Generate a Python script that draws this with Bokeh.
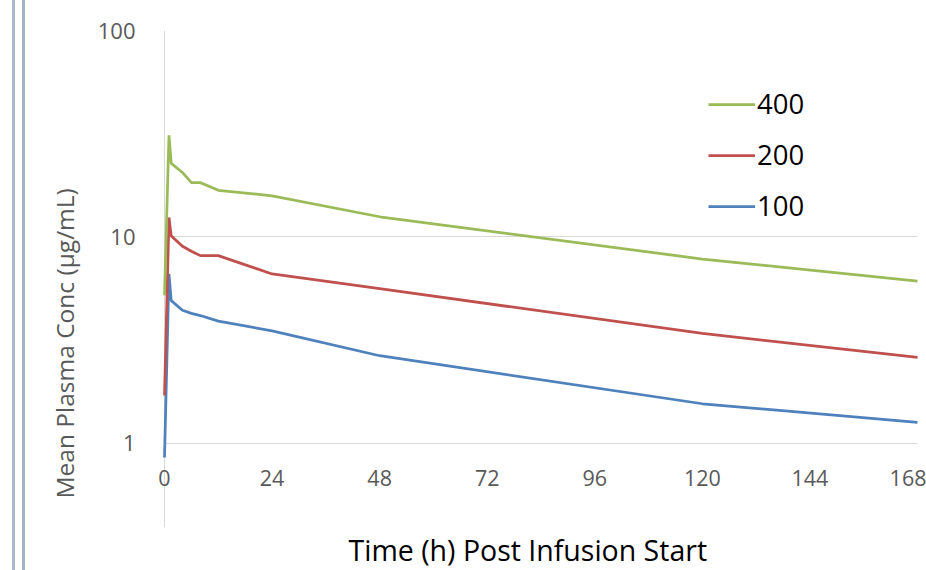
from bokeh.plotting import figure
from bokeh.models import (Range1d, FixedTicker, Legend, LegendItem, Span, Title)
from bokeh.embed import file_html
from bokeh.resources import INLINE

# Data
time_h = [0, 1, 1.5, 4, 6, 8, 12, 24, 48, 120, 168]
conc_400 = [5.2, 31.0, 22.7, 20.5, 18.3, 18.3, 16.8, 15.8, 12.5, 7.8, 6.1]
conc_200 = [1.7, 12.4, 10.1, 9.0, 8.5, 8.1, 8.1, 6.6, 5.6, 3.4, 2.6]
conc_100 = [0.85, 6.6, 4.9, 4.4, 4.25, 4.15, 3.9, 3.5, 2.65, 1.55, 1.26]

x_ticks = [0, 24, 48, 72, 96, 120, 144, 168]
y_ticks = [1, 10, 100]
y_tick_labels = ["1", "10", "100"]
series_names = ["400", "200", "100"]
series_colors = ["#9bbb59", "#c0504d", "#4f81bd"]
x_title = "Time (h) Post Infusion Start"
y_title = "Mean Plasma Conc (µg/mL)"

FONT = "Open Sans"
GRAY = "#595959"

p = figure(width=926, height=570,
           x_range=Range1d(-1.785, 170.01), y_range=Range1d(0.3894, 100),
           y_axis_type="log", output_backend="svg", toolbar_location=None,
           min_border_left=156, min_border_right=0, min_border_top=30,
           min_border_bottom=43, outline_line_color=None,
           background_fill_color=None, border_fill_color=None)
p.styles = {"background-image": "linear-gradient(90deg, #ffffff 0px, #ffffff 12px, #a9b8c9 12px, #a9b8c9 15px, #ffffff 15px, #ffffff 22px, #a3b4c6 22px, #a3b4c6 25px, #ffffff 25px)"}

# grid
p.xgrid.visible = False
g = p.ygrid[0]
g.ticker = FixedTicker(ticks=y_ticks)
g.minor_grid_line_color = None
g.grid_line_color = "#d9d9d9"
g.grid_line_width = 1
try:
    g.cross_bounds = (0, 168)
except Exception:
    pass

# vertical line at time 0 (value axis line)
p.add_layout(Span(location=0, dimension="height", line_color="#d9d9d9",
                  line_width=1, level="underlay"))

# x axis (tick labels placed inside the frame)
xa = p.xaxis[0]
xa.ticker = FixedTicker(ticks=x_ticks)
xa.fixed_location = 0.845
xa.axis_line_color = None
xa.major_tick_line_color = None
xa.minor_tick_line_color = None
xa.major_label_standoff = 6
xa.major_label_text_font = FONT
xa.major_label_text_font_size = "21.5px"
xa.major_label_text_color = GRAY

# y axis
ya = p.yaxis[0]
ya.ticker = FixedTicker(ticks=y_ticks)
ya.major_label_overrides = dict(zip(y_ticks, y_tick_labels))
ya.axis_line_color = None
ya.major_tick_line_color = None
ya.minor_tick_line_color = None
ya.major_tick_out = 0
ya.major_label_standoff = 21
ya.major_label_text_font = FONT
ya.major_label_text_font_size = "22px"
ya.major_label_text_color = GRAY

# axis titles
p.add_layout(Title(text=x_title, align="left", offset=192, standoff=2,
                   text_font=FONT, text_font_size="28.5px",
                   text_font_style="normal", text_color="black"), "below")
p.add_layout(Title(text=y_title, align="left", offset=29, standoff=28,
                   text_font=FONT, text_font_size="24.5px",
                   text_font_style="normal", text_color=GRAY), "left")

# lines (100 drawn first, 400 on top)
r100 = p.line(time_h, conc_100, line_color=series_colors[2], line_width=2.75)
r200 = p.line(time_h, conc_200, line_color=series_colors[1], line_width=2.75)
r400 = p.line(time_h, conc_400, line_color=series_colors[0], line_width=2.75)

legend = Legend(items=[LegendItem(label=series_names[0], renderers=[r400]),
                       LegendItem(label=series_names[1], renderers=[r200]),
                       LegendItem(label=series_names[2], renderers=[r100])],
                location=(552, 303), orientation="vertical",
                glyph_width=47, glyph_height=30, label_height=30, spacing=14,
                padding=0, margin=0, label_standoff=2,
                label_text_font=FONT, label_text_font_size="27.5px",
                label_text_color="black",
                border_line_color=None, background_fill_color=None)
p.add_layout(legend, "center")

open("out.html", "w").write(file_html(p, INLINE))
